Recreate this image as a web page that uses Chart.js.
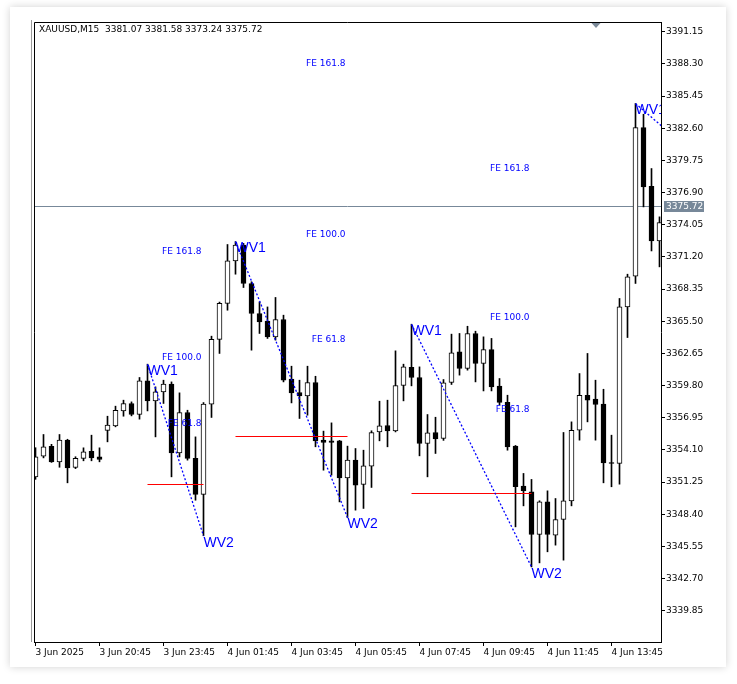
<!DOCTYPE html>
<html>
<head>
<meta charset="utf-8">
<script src="https://cdn.jsdelivr.net/npm/chart.js@4.4.1/dist/chart.umd.min.js"></script>
<style>
  html, body { margin: 0; padding: 0; background: #fff; }
  #card { position: absolute; left: 10px; top: 7px; width: 716px; height: 660px; background: #fff;
          box-shadow: 0 0 8px rgba(0, 0, 0, 0.18); }
  #wrap { position: absolute; left: 0; top: 0; width: 737px; height: 684px; }
</style>
</head>
<body>
<div id="card"></div>
<div id="wrap"><canvas id="chart"></canvas></div>
<script>
  // ---- Data (XAUUSD M15) ----
  const opens = [
    3351.72, 3353.55, 3354.43, 3353.05, 3354.97, 3352.55, 3353.35, 3353.99, 3353.49, 3355.83,
    3356.24, 3357.56, 3358.22, 3357.24, 3360.22, 3358.45, 3359.25, 3359.93, 3353.84, 3357.42,
    3353.35, 3350.16, 3358.16, 3363.89, 3367.08, 3370.85, 3372.24, 3368.85, 3366.19, 3365.51,
    3364.12, 3365.66, 3360.37, 3359.19, 3358.89, 3360.08, 3354.97, 3354.91, 3354.91, 3351.63,
    3353.20, 3351.04, 3352.66, 3355.70, 3356.27, 3355.79, 3359.81, 3361.41, 3360.52, 3354.67,
    3355.65, 3355.12, 3360.08, 3362.79, 3361.32, 3364.42, 3361.76, 3362.99, 3359.75, 3358.31,
    3354.44, 3350.90, 3350.40, 3346.61, 3349.50, 3346.55, 3347.94, 3349.59, 3355.85, 3358.95,
    3358.60, 3358.16, 3352.96, 3352.90, 3366.77, 3369.49, 3382.66, 3377.46, 3372.62
  ];
  const highs = [
    3354.30, 3355.47, 3354.60, 3355.47, 3355.05, 3353.50, 3354.29, 3355.41, 3354.29, 3357.09,
    3357.98, 3358.51, 3358.36, 3360.52, 3361.70, 3359.69, 3360.28, 3360.13, 3359.16, 3357.62,
    3355.26, 3358.30, 3364.18, 3367.20, 3372.30, 3372.56, 3372.40, 3369.00, 3367.22, 3366.77,
    3367.61, 3366.04, 3361.52, 3360.28, 3361.52, 3360.63, 3355.77, 3356.50, 3354.95, 3354.44,
    3354.23, 3354.08, 3355.80, 3358.42, 3358.51, 3362.88, 3361.70, 3365.24, 3361.46, 3357.24,
    3357.00, 3360.34, 3364.36, 3364.42, 3365.06, 3364.62, 3364.12, 3363.98, 3360.43, 3358.95,
    3354.50, 3352.02, 3351.49, 3349.60, 3350.48, 3349.80, 3355.65, 3356.59, 3360.87, 3362.65,
    3360.28, 3359.48, 3355.41, 3367.52, 3369.67, 3384.79, 3383.84, 3379.03, 3374.75
  ];
  const lows = [
    3351.50, 3353.40, 3353.00, 3352.57, 3351.19, 3352.45, 3353.14, 3353.14, 3353.05, 3354.82,
    3356.15, 3357.09, 3357.12, 3356.83, 3357.56, 3355.26, 3358.22, 3351.72, 3353.49, 3353.20,
    3349.65, 3346.50, 3356.98, 3362.65, 3366.48, 3369.67, 3368.49, 3362.94, 3364.42, 3363.98,
    3363.83, 3360.13, 3358.27, 3356.89, 3357.18, 3354.38, 3352.31, 3351.87, 3349.50, 3348.12,
    3348.77, 3348.92, 3350.78, 3354.91, 3354.38, 3355.70, 3358.45, 3359.78, 3353.58, 3351.72,
    3353.79, 3354.95, 3359.90, 3360.73, 3361.17, 3360.13, 3359.33, 3359.33, 3358.10, 3354.08,
    3347.29, 3349.15, 3343.74, 3344.10, 3345.08, 3345.67, 3344.34, 3349.15, 3354.97, 3356.59,
    3354.97, 3351.19, 3350.84, 3351.07, 3364.06, 3368.85, 3375.63, 3371.73, 3370.32
  ];
  const closes = [
    3353.49, 3354.37, 3353.05, 3354.97, 3352.51, 3353.35, 3353.93, 3353.40, 3353.26, 3356.30,
    3357.62, 3358.22, 3357.24, 3360.22, 3358.45, 3359.25, 3359.93, 3353.84, 3357.42, 3353.35,
    3350.16, 3358.16, 3363.89, 3367.08, 3370.85, 3372.24, 3368.85, 3366.19, 3365.45, 3364.12,
    3365.66, 3360.28, 3359.16, 3358.89, 3360.08, 3354.91, 3354.76, 3354.76, 3351.63, 3353.20,
    3350.98, 3352.70, 3355.65, 3356.24, 3355.79, 3359.81, 3361.46, 3360.52, 3354.67, 3355.62,
    3355.09, 3360.05, 3362.70, 3361.32, 3364.42, 3361.76, 3362.99, 3359.69, 3358.31, 3354.38,
    3350.84, 3350.48, 3346.61, 3349.50, 3346.61, 3347.94, 3349.59, 3355.85, 3358.95, 3358.51,
    3358.13, 3352.96, 3352.90, 3366.77, 3369.43, 3382.66, 3377.40, 3372.62, 3374.25
  ];

  // x axis: bar index of each labelled tick and its text
  const tickBars = [0, 8, 16, 24, 32, 40, 48, 56, 64, 72];
  const tickText = ["3 Jun 2025", "3 Jun 20:45", "3 Jun 23:45", "4 Jun 01:45", "4 Jun 03:45",
                    "4 Jun 05:45", "4 Jun 07:45", "4 Jun 09:45", "4 Jun 11:45", "4 Jun 13:45"];
  // y axis ticks (MT5 price scale)
  const yTicks = [3391.15, 3388.30, 3385.45, 3382.60, 3379.75, 3376.90, 3374.05, 3371.20, 3368.35,
                  3365.50, 3362.65, 3359.80, 3356.95, 3354.10, 3351.25, 3348.40, 3345.55, 3342.70, 3339.85];

  const headerText = "XAUUSD,M15  3381.07 3381.58 3373.24 3375.72";
  const lastPrice = 3375.72;
  const shiftBar = 70;

  // wave legs: [fromBar, fromPrice, toBar, toPrice]
  const waveLegs = [
    [14, 3361.70, 21, 3346.50],
    [25, 3372.56, 39, 3348.12],
    [47, 3365.24, 62, 3343.74],
    [75, 3384.79, 80, 3381.74]
  ];
  // wave labels: [text, bar, price]
  const waveLabels = [
    ["WV1", 14, 3361.70], ["WV2", 21, 3346.50],
    ["WV1", 25, 3372.56], ["WV2", 39, 3348.12],
    ["WV1", 47, 3365.24], ["WV2", 62, 3343.74],
    ["WV1", 75, 3384.79]
  ];
  // red levels: [fromBar, toBar, price]
  const redLevels = [
    [14, 21, 3351.07],
    [25, 39, 3355.38],
    [47, 62, 3350.25]
  ];
  // fibo expansion labels: [text, anchorBar, price]
  const feLabels = [
    ["FE 161.8", 21, 3371.71], ["FE 100.0", 21, 3362.32], ["FE 61.8", 21, 3356.43],
    ["FE 161.8", 39, 3388.36], ["FE 100.0", 39, 3373.13], ["FE 61.8", 39, 3363.83],
    ["FE 161.8", 62, 3379.06], ["FE 100.0", 62, 3365.86], ["FE 61.8", 62, 3357.71]
  ];

  // ---- Chart ----
  const FONT = "DejaVu Sans";
  const idx = opens.map((_, i) => i);
  const wickData = idx.map((i) => ({ x: i, y: [lows[i], highs[i]] }));
  const bodyData = idx.map((i) => ({ x: i, y: [opens[i], closes[i]] }));
  const bodyFill = idx.map((i) => (closes[i] >= opens[i] ? "#ffffff" : "#000000"));

  const overlay = {
    id: "overlay",
    beforeDatasetsDraw(chart) {
      const { ctx, chartArea: a, scales: { y } } = chart;
      const py = Math.round(y.getPixelForValue(lastPrice)) + 0.5;
      ctx.save();
      ctx.strokeStyle = "#778899";
      ctx.lineWidth = 1;
      ctx.beginPath();
      ctx.moveTo(a.left, py);
      ctx.lineTo(a.right, py);
      ctx.stroke();
      ctx.restore();
    },
    afterDatasetsDraw(chart) {
      const { ctx, chartArea: a, scales: { x, y } } = chart;
      ctx.save();
      ctx.beginPath();
      ctx.rect(a.left, a.top, a.right - a.left, a.bottom - a.top);
      ctx.clip();

      // red levels
      ctx.strokeStyle = "#ff0000";
      ctx.lineWidth = 1;
      redLevels.forEach(([b0, b1, p]) => {
        const py = Math.round(y.getPixelForValue(p)) + 0.5;
        ctx.beginPath();
        ctx.moveTo(x.getPixelForValue(b0), py);
        ctx.lineTo(x.getPixelForValue(b1), py);
        ctx.stroke();
      });

      // dotted wave legs
      ctx.strokeStyle = "#0000ff";
      ctx.lineWidth = 1.3;
      ctx.setLineDash([2, 2]);
      waveLegs.forEach(([b0, p0, b1, p1]) => {
        ctx.beginPath();
        ctx.moveTo(x.getPixelForValue(b0), y.getPixelForValue(p0));
        ctx.lineTo(x.getPixelForValue(b1), y.getPixelForValue(p1));
        ctx.stroke();
      });
      ctx.setLineDash([]);

      // wave labels
      ctx.fillStyle = "#0000ff";
      ctx.font = "14px 'Liberation Sans'";
      ctx.textAlign = "left";
      ctx.textBaseline = "top";
      waveLabels.forEach(([t, b, p]) => {
        ctx.fillText(t, x.getPixelForValue(b), y.getPixelForValue(p));
      });

      // fibo expansion labels
      ctx.font = "9px '" + FONT + "'";
      ctx.textAlign = "right";
      ctx.textBaseline = "middle";
      feLabels.forEach(([t, b, p]) => {
        ctx.fillText(t, x.getPixelForValue(b) - 2, y.getPixelForValue(p));
      });
      ctx.restore();

      // frame (top + left) and outer grey edge
      ctx.save();
      ctx.strokeStyle = "#000";
      ctx.lineWidth = 1;
      ctx.beginPath();
      ctx.moveTo(a.left + 0.5, a.bottom);
      ctx.lineTo(a.left + 0.5, a.top + 0.5);
      ctx.lineTo(a.right, a.top + 0.5);
      ctx.stroke();
      ctx.strokeStyle = "#9a9a9a";
      ctx.beginPath();
      ctx.moveTo(a.left - 2.5, a.top - 2);
      ctx.lineTo(a.left - 2.5, a.bottom);
      ctx.stroke();

      // header
      ctx.fillStyle = "#000";
      ctx.font = "9px '" + FONT + "'";
      ctx.textAlign = "left";
      ctx.textBaseline = "middle";
      ctx.fillText(headerText, a.left + 5, a.top + 8);

      // chart shift marker
      const sx = Math.round(x.getPixelForValue(shiftBar));
      ctx.fillStyle = "#7b8a99";
      ctx.beginPath();
      ctx.moveTo(sx - 4.5, a.top + 1);
      ctx.lineTo(sx + 4.5, a.top + 1);
      ctx.lineTo(sx, a.top + 6);
      ctx.closePath();
      ctx.fill();

      // last price tag on the axis
      const py = Math.round(y.getPixelForValue(lastPrice));
      ctx.fillStyle = "#778899";
      ctx.fillRect(a.right + 3, py - 5, 40, 11);
      ctx.fillStyle = "#ffffff";
      ctx.fillText(lastPrice.toFixed(2), a.right + 5, py + 0.5);
      ctx.restore();
    }
  };

  new Chart(document.getElementById("chart"), {
    type: "bar",
    data: {
      datasets: [
        { data: wickData, backgroundColor: "#000000", barThickness: 1, grouped: false, order: 2 },
        {
          data: bodyData, backgroundColor: bodyFill, borderColor: "#000000", borderWidth: 1,
          borderSkipped: false, barThickness: 5, minBarLength: 1, grouped: false, order: 1
        }
      ]
    },
    options: {
      responsive: true,
      maintainAspectRatio: false,
      animation: false,
      layout: { padding: { left: 34, top: 22, right: 16, bottom: 22 } },
      plugins: { legend: { display: false }, tooltip: { enabled: false } },
      scales: {
        x: {
          type: "linear",
          min: -0.1875,
          max: 78.1875,
          offset: false,
          border: { display: true, color: "#000", width: 1 },
          grid: { offset: false, drawOnChartArea: false, drawTicks: true, tickLength: 4, color: "#000" },
          ticks: {
            align: "start", padding: 1, color: "#000", maxRotation: 0, autoSkip: false,
            font: { family: FONT, size: 9 },
            callback: (v, i) => tickText[i]
          },
          afterBuildTicks: (s) => { s.ticks = tickBars.map((v) => ({ value: v })); },
          afterFit: (s) => { s.height = 20; }
        },
        y: {
          position: "right",
          min: 3337.09,
          max: 3392.01,
          border: { display: true, color: "#000", width: 1 },
          grid: { drawOnChartArea: false, drawTicks: true, tickLength: 4, color: "#000" },
          ticks: {
            padding: 1, color: "#000", autoSkip: false,
            font: { family: FONT, size: 9 },
            callback: (v) => Number(v).toFixed(2)
          },
          afterBuildTicks: (s) => { s.ticks = yTicks.map((v) => ({ value: v })); },
          afterFit: (s) => { s.width = 60; }
        }
      }
    },
    plugins: [overlay]
  });
</script>
</body>
</html>
